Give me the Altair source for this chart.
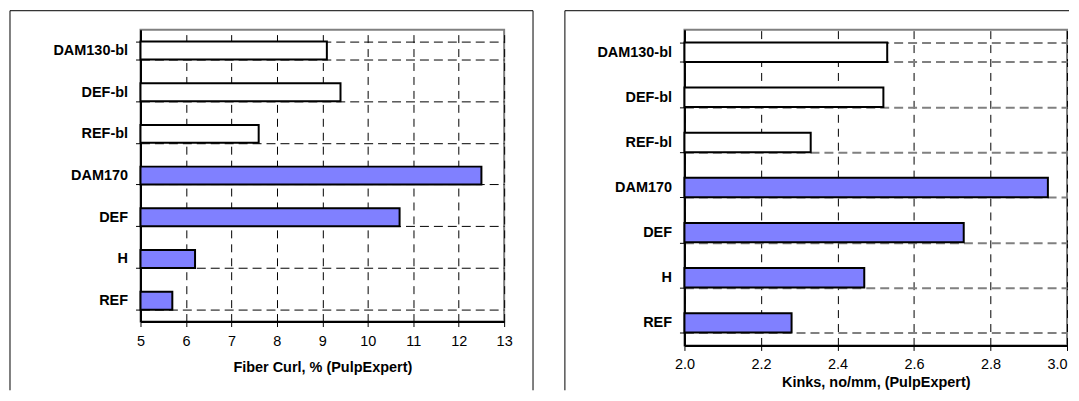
import altair as alt
import pandas as pd

categories = ["DAM130-bl", "DEF-bl", "REF-bl", "DAM170", "DEF", "H", "REF"]
groups = ["bleached", "bleached", "bleached", "unbleached", "unbleached", "unbleached", "unbleached"]
curl = [9.1, 9.4, 7.6, 12.5, 10.7, 6.2, 5.7]
kinks = [2.53, 2.52, 2.33, 2.95, 2.73, 2.47, 2.28]
curl_ticks = [5, 6, 7, 8, 9, 10, 11, 12, 13]
kink_ticks = [2.0, 2.2, 2.4, 2.6, 2.8, 3.0]

df = pd.DataFrame({"sample": categories, "group": groups, "curl": curl, "kinks": kinks})

FONT = "Liberation Sans"


def panel(field, ticks, fmt, w, h, title, label_pad, title_pad, frame_left, frame_right,
          draw_right, grid_color, grid_width, frame_bottom, label_align):
    bars = alt.Chart(df).mark_bar(stroke="black", strokeWidth=2).encode(
        x=alt.X(f"{field}:Q",
                scale=alt.Scale(domain=[ticks[0], ticks[-1]], nice=False, zero=False),
                axis=alt.Axis(values=ticks, format=fmt, title=title, grid=True,
                              gridColor="black", gridDash=[8, 6], gridWidth=1,
                              domainColor="black", domainWidth=2,
                              tickColor="black", tickSize=5, tickWidth=1,
                              labelFont=FONT, labelFontSize=14.5, labelColor="black",
                              labelPadding=label_pad, labelAlign=label_align,
                              titleFont=FONT, titleFontSize=14.5,
                              titleFontWeight="bold", titleColor="black",
                              titlePadding=title_pad)),
        x2=alt.datum(ticks[0]),
        y=alt.Y("sample:N", sort=categories,
                scale=alt.Scale(paddingInner=0.57, paddingOuter=0.285),
                axis=alt.Axis(title=None, tickBand="extent", grid=True,
                              gridColor=grid_color, gridDash=[9, 5], gridWidth=grid_width,
                              domainColor="black", domainWidth=2,
                              tickColor="black", tickSize=5, tickWidth=1,
                              labelFont=FONT, labelFontSize=14.5, labelFontWeight="bold",
                              labelColor="black", labelPadding=8)),
        fill=alt.Fill("group:N",
                      scale=alt.Scale(domain=["bleached", "unbleached"],
                                      range=["#FFFFFF", "#8080FF"]),
                      legend=None),
    )
    one = alt.Data(values=[{"k": 0}])
    fl = alt.Chart(one).mark_rule(color="black", strokeWidth=1).encode(
        x=alt.value(frame_left), y=alt.value(-19), y2=alt.value(frame_bottom))
    ft = alt.Chart(one).mark_rule(color="black", strokeWidth=1).encode(
        x=alt.value(frame_left), x2=alt.value(frame_right), y=alt.value(-19))
    layers = [fl, ft]
    if draw_right:
        fr = alt.Chart(one).mark_rule(color="black", strokeWidth=1).encode(
            x=alt.value(frame_right), y=alt.value(-19), y2=alt.value(frame_bottom))
        layers.append(fr)
    return alt.layer(bars, *layers).properties(width=w, height=h)


left = panel("curl", curl_ticks, "d", 365, 293, "Fiber Curl, % (PulpExpert)", 8, 13,
             -131, 394, True, "black", 1, 362, "center")
right = panel("kinks", kink_ticks, ".1f", 384, 317, "Kinks, no/mm, (PulpExpert)", 7, 4.5,
              -120, 386, False, "#808080", 2, 362,
              {"condition": {"test": "datum.value >= 2.99", "value": "right"}, "value": "center"})

chart = alt.hconcat(left, right, spacing=28).properties(
    padding=0, background="white"
).configure_view(stroke="#808080", strokeWidth=2)

chart.save("out.html", embed_options={"renderer": "svg", "actions": False})
